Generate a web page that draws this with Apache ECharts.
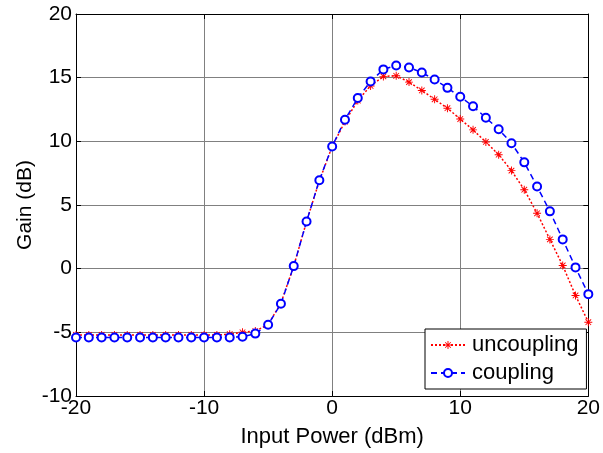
<!DOCTYPE html>
<html>
<head>
<meta charset="utf-8">
<script src="https://cdn.jsdelivr.net/npm/echarts@6/dist/echarts.min.js"></script>
<style>
html,body{margin:0;padding:0;background:#fff;}
#chart{width:603px;height:453px;}
</style>
</head>
<body>
<div id="chart"></div>
<script>
var inputPower = [-20,-19,-18,-17,-16,-15,-14,-13,-12,-11,-10,-9,-8,-7,-6,-5,-4,-3,-2,-1,0,1,2,3,4,5,6,7,8,9,10,11,12,13,14,15,16,17,18,19,20];
var uncoupling = [-5.2,-5.2,-5.2,-5.2,-5.2,-5.2,-5.2,-5.2,-5.2,-5.2,-5.2,-5.2,-5.15,-5.0,-4.9,-4.4,-2.7,0.2,3.7,6.9,9.6,11.55,13.2,14.35,15.1,15.15,14.65,14.0,13.3,12.6,11.75,10.9,9.95,8.95,7.7,6.2,4.35,2.3,0.25,-2.1,-4.2];
var coupling = [-5.4,-5.4,-5.4,-5.4,-5.4,-5.4,-5.4,-5.4,-5.4,-5.4,-5.4,-5.4,-5.4,-5.35,-5.1,-4.4,-2.75,0.2,3.7,6.95,9.6,11.7,13.4,14.7,15.65,15.95,15.8,15.4,14.85,14.2,13.5,12.75,11.85,10.95,9.85,8.35,6.45,4.5,2.3,0.1,-2.0];
var seriesNames = ['uncoupling','coupling'];
var xTitle = 'Input Power (dBm)';
var yTitle = 'Gain (dB)';

function pairs(xs, ys){ return xs.map(function(x,i){ return [x, ys[i]]; }); }

var asterisk = 'path://M-0.6 -5 L0.6 -5 L0.6 5 L-0.6 5 Z M-5 -0.6 L5 -0.6 L5 0.6 L-5 0.6 Z M-3.9 -3.1 L-3.1 -3.9 L3.9 3.1 L3.1 3.9 Z M3.1 -3.9 L3.9 -3.1 L-3.1 3.9 L-3.9 3.1 Z';
var FONT = 'Liberation Sans';
var FS = 21;

var chart = echarts.init(document.getElementById('chart'), null, {renderer:'canvas'});
var tickOnly = {
  axisLine:{show:true, onZero:false, lineStyle:{color:'#000'}},
  axisTick:{show:true, inside:true, length:5, lineStyle:{color:'#000'}},
  axisLabel:{show:false},
  splitLine:{show:false}
};
chart.setOption({
  animation:false,
  backgroundColor:'#fff',
  textStyle:{fontFamily:FONT},
  grid:{left:76, right:11, top:14, bottom:55},
  xAxis:[{
    type:'value', min:-20, max:20, interval:10,
    name:xTitle, nameLocation:'middle', nameGap:30, nameMoveOverlap:false,
    nameTextStyle:{fontSize:22, color:'#000', fontFamily:FONT},
    axisLine:{show:true, onZero:false, lineStyle:{color:'#000'}},
    axisTick:{show:true, inside:true, length:5, lineStyle:{color:'#000'}},
    axisLabel:{fontSize:FS, color:'#000', margin:2, fontFamily:FONT},
    splitLine:{show:true, lineStyle:{color:'#808080', width:1}}
  }, Object.assign({type:'value', position:'top', min:-20, max:20, interval:10}, tickOnly)],
  yAxis:[{
    type:'value', min:-10, max:20, interval:5,
    name:yTitle, nameLocation:'middle', nameGap:40, nameRotate:90, nameMoveOverlap:false,
    nameTextStyle:{fontSize:FS, color:'#000', fontFamily:FONT},
    axisLine:{show:true, onZero:false, lineStyle:{color:'#000'}},
    axisTick:{show:true, inside:true, length:5, lineStyle:{color:'#000'}},
    axisLabel:{fontSize:FS, color:'#000', margin:4, fontFamily:FONT},
    splitLine:{show:true, lineStyle:{color:'#808080', width:1}}
  }, Object.assign({type:'value', position:'right', min:-10, max:20, interval:5}, tickOnly)],
  legend:{
    orient:'vertical', left:425, top:329,
    backgroundColor:'#fff', borderColor:'#000', borderWidth:1,
    padding:[5,8,5,5], itemGap:6, itemWidth:34, itemHeight:10,
    textStyle:{fontSize:22, color:'#000', fontFamily:FONT, padding:[0,0,0,2]},
    data:seriesNames
  },
  series:[
    {
      name:seriesNames[0], type:'line', data:pairs(inputPower, uncoupling),
      symbol:asterisk, symbolSize:8,
      itemStyle:{color:'#ff0000'},
      lineStyle:{color:'#ff0000', width:1.5, type:[2,2]},
      z:3
    },
    {
      name:seriesNames[1], type:'line', data:pairs(inputPower, coupling),
      symbol:'emptyCircle', symbolSize:8,
      itemStyle:{color:'#0000ff', borderColor:'#0000ff', borderWidth:1.5},
      lineStyle:{color:'#0000ff', width:1.5, type:[6,4]},
      z:4
    }
  ]
});
</script>
</body>
</html>
